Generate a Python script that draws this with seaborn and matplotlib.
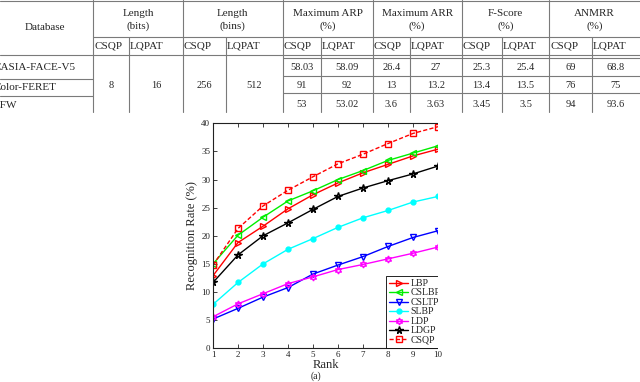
import matplotlib
matplotlib.use("Agg")
import matplotlib.pyplot as plt
import seaborn as sns
from matplotlib.lines import Line2D
from matplotlib.patches import Rectangle

# ---------------- data ----------------
ranks = [1, 2, 3, 4, 5, 6, 7, 8, 9, 10]
lbp = [12.9, 18.8, 21.7, 24.8, 27.3, 29.4, 31.2, 32.7, 34.2, 35.4]
cslbp = [15.0, 20.1, 23.3, 26.2, 28.0, 30.0, 31.6, 33.4, 34.7, 36.0]
csltp = [5.2, 7.1, 9.1, 10.8, 13.2, 14.8, 16.3, 18.1, 19.7, 20.9]
slbp = [7.8, 11.7, 15.0, 17.6, 19.5, 21.5, 23.2, 24.5, 26.0, 27.0]
ldp = [5.6, 7.9, 9.7, 11.5, 12.7, 14.0, 14.9, 15.9, 16.9, 18.0]
ldgp = [11.7, 16.6, 20.0, 22.3, 24.7, 27.0, 28.5, 29.8, 31.0, 32.4]
csqp = [14.8, 21.3, 25.3, 28.1, 30.5, 32.8, 34.5, 36.4, 38.2, 39.4]
method_names = ["LBP", "CSLBP", "CSLTP", "SLBP", "LDP", "LDGP", "CSQP"]

databases = ["CASIA-FACE-V5", "Color-FERET", "LFW"]
group_headers = [("Length", "(bits)"), ("Length", "(bins)"), ("Maximum ARP", "(%)"),
                 ("Maximum ARR", "(%)"), ("F-Score", "(%)"), ("ANMRR", "(%)")]
sub_headers = ["CSQP", "LQPAT"]
length_values = ["8", "16", "256", "512"]
arp = [["58.03", "58.09"], ["91", "92"], ["53", "53.02"]]
arr = [["26.4", "27"], ["13", "13.2"], ["3.6", "3.63"]]
fscore = [["25.3", "25.4"], ["13.4", "13.5"], ["3.45", "3.5"]]
anmrr = [["69", "68.8"], ["76", "75"], ["94", "93.6"]]

# ---------------- style ----------------
sns.set_style("ticks")
plt.rcParams["font.family"] = ["Liberation Serif", "DejaVu Serif"]

W, H = 640, 382
fig = plt.figure(figsize=(6.4, 3.82), dpi=100)
fig.patch.set_facecolor("white")

# ---------------- chart ----------------
x0, x1, y0, y1 = 213, 438, 123.3, 348.3
ax = fig.add_axes([x0 / W, 1 - y1 / H, (x1 - x0) / W, (y1 - y0) / H])

series = [lbp, cslbp, csltp, slbp, ldp, ldgp, csqp]
colors = ["#ff0000", "#00ee00", "#0000ff", "#00ffff", "#ff00ff", "#000000", "#ff0000"]
markers = [">", "<", "v", "o", (6, 1, 0), "*", "s"]
msizes = [5, 5, 5, 3.5, 5, 5.5, 5]
faces = ["none", "none", "none", "#00ffff", "none", "none", "none"]
styles = ["-", "-", "-", "-", "-", "-", (0, (3, 1.6))]

for name, vals, c, m, ms, fc, ls in zip(method_names, series, colors, markers,
                                        msizes, faces, styles):
    sns.lineplot(x=ranks, y=vals, ax=ax, color=c, marker=m, markersize=ms,
                 markeredgecolor=c, markerfacecolor=fc, markeredgewidth=1.0,
                 linewidth=1.0, linestyle=ls, label=name, legend=False)

ax.set_xlim(1, 10)
ax.set_ylim(0, 40)
ax.set_xticks(ranks)
ax.set_yticks(range(0, 41, 5))
ax.tick_params(direction="in", top=True, right=False, length=3, width=0.6,
               labelsize=6.5, pad=2, colors="#222222")
for s in ["left", "bottom", "top"]:
    ax.spines[s].set_linewidth(0.8)
    ax.spines[s].set_color("#222222")
ax.spines["right"].set_visible(False)
ax.set_xlabel("Rank", fontsize=9, labelpad=0)
ax.set_ylabel("Recognition Rate (%)", fontsize=9, labelpad=2)

leg = ax.legend(loc="lower left", bbox_to_anchor=((386 - x0) / (x1 - x0), 0.0),
                prop=dict(size=7), handlelength=1.9, handletextpad=0.3,
                labelspacing=0.05, borderaxespad=0, borderpad=0.35,
                frameon=True, fancybox=False, framealpha=1, edgecolor="black")
leg.get_frame().set_linewidth(0.6)

fig.text(316 / W, 1 - 376 / H, "(a)", ha="center", va="center", fontsize=7)

# ---------------- table overlay ----------------
tax = fig.add_axes([0, 0, 1, 1], zorder=5)
tax.set_xlim(0, W)
tax.set_ylim(H, 0)
tax.axis("off")
tax.patch.set_alpha(0)

# the original figure is cropped just right of the chart
tax.add_patch(Rectangle((438.3, 112), W - 438.3, 237.5, facecolor="white",
                        edgecolor="none"))

lc = "#7a7a7a"
def hline(y, xa, xb):
    tax.add_line(Line2D([xa, xb], [y, y], color=lc, lw=0.8))
def vline(x, ya, yb):
    tax.add_line(Line2D([x, x], [ya, yb], color=lc, lw=0.8))

group_edges = [93.3, 182.7, 282.7, 372.7, 461.7, 549.3, 640]
inner = [129.3, 226, 320.7, 410, 501.7, 591.7]

hline(0.8, 0, W)
hline(37, 93.3, W)
hline(55, 0, W)
hline(58, 282.7, W)
hline(75.5, 282.7, W)
hline(92.5, 282.7, W)
hline(79, 0, 93.3)
hline(96, 0, 93.3)
for xe in group_edges[:-1]:
    vline(xe, 0, 112)
for xi in inner:
    vline(xi, 37, 112)

fs_h = 8
fs_d = 7.5
tax.text(45, 28, "Database", ha="center", va="center", fontsize=fs_h)
for i, (l1, l2) in enumerate(group_headers):
    cx = (group_edges[i] + group_edges[i + 1]) / 2
    tax.text(cx, 13.3, l1, ha="center", va="center", fontsize=fs_h)
    tax.text(cx, 26, l2, ha="center", va="center", fontsize=fs_h)
    lefts = [group_edges[i], inner[i]]
    for j, sh in enumerate(sub_headers):
        tax.text(lefts[j] + 0.8, 46.5, sh, ha="left", va="center", fontsize=fs_h)

db_y = [67, 87.5, 105]
for name, yy in zip(databases, db_y):
    tax.text(-6.5, yy, name, ha="left", va="center", fontsize=fs_h)

cells = [(group_edges[0], inner[0]), (inner[0], group_edges[1]),
         (group_edges[1], inner[1]), (inner[1], group_edges[2])]
for (a, b), v in zip(cells, length_values):
    tax.text((a + b) / 2, 86, v, ha="center", va="center", fontsize=fs_d)

row_y = [67.5, 85.5, 104.5]
for gi, block in zip(range(2, 6), [arp, arr, fscore, anmrr]):
    a, m, b = group_edges[gi], inner[gi], group_edges[gi + 1]
    for r, (v1, v2) in enumerate(block):
        tax.text((a + m) / 2, row_y[r], v1, ha="center", va="center", fontsize=fs_d)
        tax.text((m + b) / 2, row_y[r], v2, ha="center", va="center", fontsize=fs_d)

fig.savefig("out.png", dpi=100)
